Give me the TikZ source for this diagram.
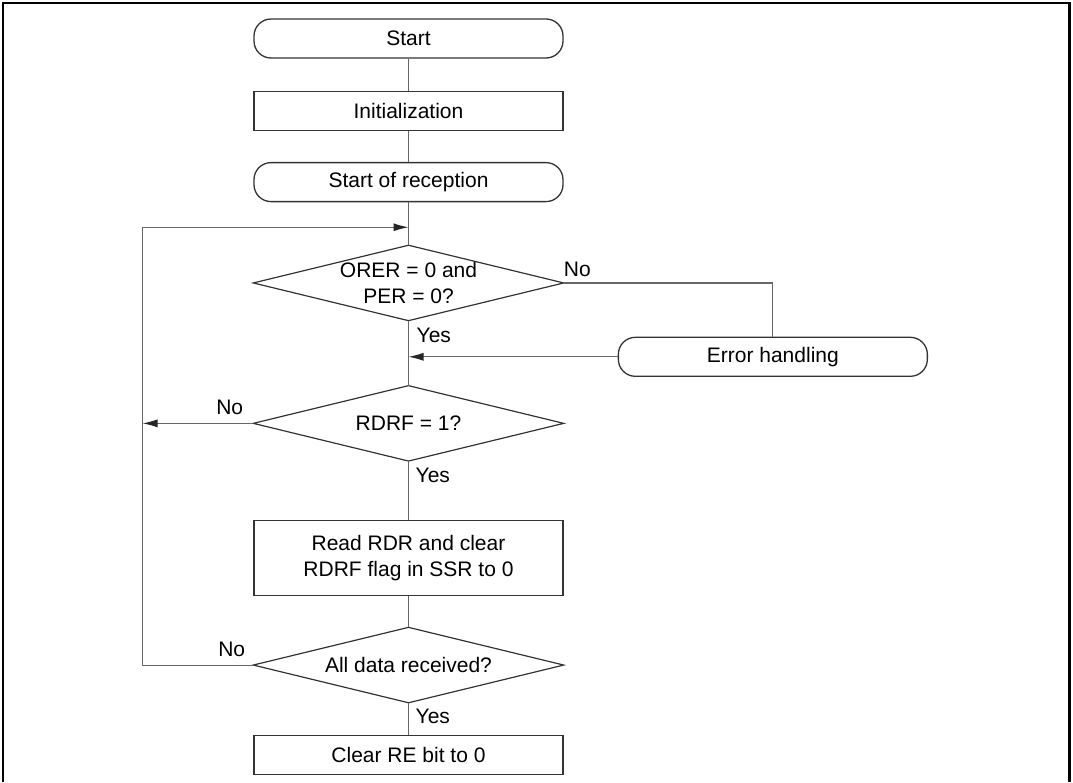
\documentclass[tikz,border=0pt]{standalone}
\usepackage{fontspec}
\setmainfont{Liberation Sans}
\usepackage{xcolor}
\usepackage{tikz}
\usetikzlibrary{arrows.meta, positioning}
\definecolor{boxline}{gray}{0.2}
\definecolor{wireline}{gray}{0.4}

\begin{document}
\begin{tikzpicture}[x=1pt, y=-1pt, every node/.style={font=\fontsize{21}{25.5}\selectfont},
    term/.style={draw=boxline, line width=1.3pt, rounded corners=17pt, minimum width=309pt, minimum height=39pt, inner sep=0pt},
    proc/.style={draw=boxline, line width=1.3pt, minimum width=309pt, minimum height=39pt, inner sep=0pt, align=center},
    decide/.style={minimum width=310pt, minimum height=75pt, inner sep=0pt, align=center},
    wire/.style={draw=wireline, line width=1.1pt},
    tip/.style={-{Latex[length=15pt, width=8pt, color=black!85]}},
    lbl/.style={inner sep=0pt}]
    \useasboundingbox (0,0) rectangle (1073,782);
    \draw[line width=2.6pt] (3,782) -- (3,3) -- (1069.5,3) -- (1069.5,782);

    \node[term] (start) at (408.5,38.5) {Start};
    \node[proc, below=32pt of start] (init) {Initialization};
    \node[term, below=31pt of init] (rcv) {Start of reception};
    \node[decide, below=43pt of rcv] (chk) {ORER = 0 and\\PER = 0?};
    \node[term, below right=16pt and 54pt of chk] (err) {Error handling};
    \node[decide, below=65pt of chk] (rdrf) {RDRF = 1?};
    \node[proc, minimum height=75pt, below=59pt of rdrf] (read) {Read RDR and clear\\RDRF flag in SSR to 0};
    \node[decide, below=31pt of read] (all) {All data received?};
    \node[proc, below=32pt of all] (clr) {Clear RE bit to 0};
    \foreach \d in {chk, rdrf, all}
      \draw[draw=boxline, line width=1.2pt] (\d.north) -- (\d.east) -- (\d.south) -- (\d.west) -- cycle;

    \coordinate[below=25pt of rcv] (join);
    \coordinate[left=266pt of join] (lft);

    \draw[wire] (start) -- (init);
    \draw[wire] (init) -- (rcv);
    \draw[wire] (rcv) -- (chk.north);
    \draw[wire] (chk.south) -- (rdrf.north);
    \draw[wire] (rdrf.south) -- (read);
    \draw[wire] (read) -- (all.north);
    \draw[wire] (all.south) -- (clr);
    \draw[wire] (chk.east) -| (err.north);
    \draw[wire, tip] (err.west) -- (err.west -| chk.south);
    \draw[wire, tip] (rdrf.west) -- (rdrf.west -| lft);
    \draw[wire, tip] (all.west) -| (lft) -- (join);

    \node[lbl, anchor=south west, yshift=6pt] (chkno) at (chk.east) {No};
    \node[lbl, anchor=north west, xshift=8pt, yshift=-7pt] (chkyes) at (chk.south) {Yes};
    \node[lbl, anchor=south east, xshift=-10pt, yshift=8pt] (rdrfno) at (rdrf.west) {No};
    \node[lbl, anchor=north west, xshift=7pt, yshift=-7pt] (rdrfyes) at (rdrf.south) {Yes};
    \node[lbl, anchor=south east, xshift=-8pt, yshift=8pt] (allno) at (all.west) {No};
    \node[lbl, anchor=north west, xshift=7pt, yshift=-6pt] (allyes) at (all.south) {Yes};
  \end{tikzpicture}
\end{document}
